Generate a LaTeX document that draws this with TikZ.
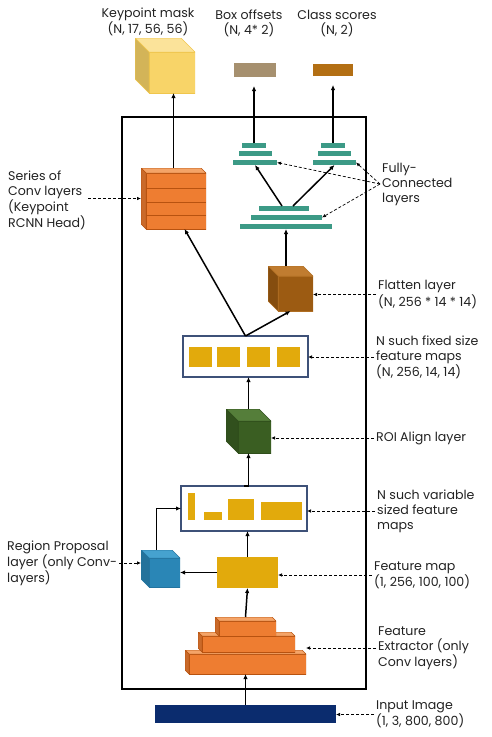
\documentclass[tikz,border=0pt]{standalone}
\usepackage{fontspec}
\setmainfont{Poppins}
\usetikzlibrary{arrows.meta}

\definecolor{txt}{HTML}{222222}
\definecolor{navy}{HTML}{0B2C6E}
\definecolor{orfront}{HTML}{EE7D31}
\definecolor{ortop}{HTML}{F4A468}
\definecolor{orside}{HTML}{D9671C}
\definecolor{orline}{HTML}{B8520F}
\definecolor{gold}{HTML}{E2AA0C}
\definecolor{frame}{HTML}{3E5178}
\definecolor{bluefront}{HTML}{2A86B6}
\definecolor{bluetop}{HTML}{46A2CF}
\definecolor{blueside}{HTML}{2374A0}
\definecolor{grnfront}{HTML}{3A5E22}
\definecolor{grntop}{HTML}{557E3A}
\definecolor{grnside}{HTML}{2F4E1B}
\definecolor{brnfront}{HTML}{9C5B12}
\definecolor{brntop}{HTML}{C07C30}
\definecolor{brnside}{HTML}{B06E22}
\definecolor{ylwfront}{HTML}{F8D468}
\definecolor{ylwtop}{HTML}{FBE39A}
\definecolor{ylwside}{HTML}{F0C64C}
\definecolor{teal}{HTML}{3C9A86}
\definecolor{tan}{HTML}{A6906F}
\definecolor{rust}{HTML}{B36F14}

\begin{document}
\begin{tikzpicture}[x=1pt,y=-1pt,
  font=\fontsize{12.6}{15}\selectfont, text=txt,
  blk/.style={inner sep=0pt,outer sep=0pt},
  cube/.style n args={4}{blk, path picture={
    \coordinate (sw) at (path picture bounding box.south west);
    \coordinate (nw) at (path picture bounding box.north west);
    \coordinate (ne) at (path picture bounding box.north east);
    \filldraw[fill=#2,draw=#4,line width=0.5pt] ([xshift=#1pt]sw) rectangle ([yshift=-#1pt]ne);
    \filldraw[fill=#3,draw=#4,line width=0.5pt] (nw) -- ([xshift=-#1pt]ne) -- ([yshift=-#1pt]ne)
      -- ([xshift=#1pt,yshift=-#1pt]nw) -- cycle;
    \filldraw[fill=#2!85!black,draw=#4,line width=0.5pt] (nw) -- ([xshift=#1pt,yshift=-#1pt]nw)
      -- ([xshift=#1pt]sw) -- ([yshift=#1pt]sw) -- cycle;}},
  fc/.style={blk,fill=teal,minimum height=5pt},
  mapbox/.style={blk,draw=frame,line width=1.5pt,fill=white},
  lbl/.style={anchor=west,align=left,inner sep=2pt},
  arr/.style={-{Latex[length=5pt,width=4.5pt]},line width=1.5pt},
  darr/.style={-{Latex[length=4pt,width=3.5pt]},densely dashed,line width=0.7pt}]
\useasboundingbox (0,0) rectangle (491,737);

% outer frame
\node[blk,draw,line width=2.2pt,minimum width=244pt,minimum height=572pt] (box) at (244,403) {};

% input and feature extractor
\node[blk,fill=navy,minimum width=181pt,minimum height=18pt] (inimg) at (245.5,714) {};
\node[cube={4}{orfront}{ortop}{orline},minimum width=121pt,minimum height=24pt] (fexA) at (245.5,662) {};
\node[cube={4}{orfront}{ortop}{orline},minimum width=97pt,minimum height=20pt] (fexB) at (246.5,642) {};
\node[cube={4}{orfront}{ortop}{orline},minimum width=61pt,minimum height=19pt] (fexC) at (245.5,626.5) {};

% feature map and region proposals
\node[blk,fill=gold,minimum width=61pt,minimum height=31pt] (fmap) at (247.5,572.5) {};
\node[cube={8}{bluefront}{bluetop}{blueside},minimum width=39pt,minimum height=37pt] (rpn) at (160.5,568.5) {};
\node[mapbox,minimum width=126pt,minimum height=45pt] (varbox) at (244,508.5) {};
\node[blk,fill=gold,minimum width=7pt,minimum height=27pt] (v1) at (191.5,506.5) {};
\node[blk,fill=gold,minimum width=18pt,minimum height=8pt] (v2) at (213,516) {};
\node[blk,fill=gold,minimum width=26pt,minimum height=21pt] (v3) at (241,509.5) {};
\node[blk,fill=gold,minimum width=41pt,minimum height=18pt] (v4) at (281.5,511) {};

% roi align and fixed maps
\node[cube={12}{grnfront}{grntop}{grnside},minimum width=45pt,minimum height=44pt] (roi) at (248.5,431) {};
\node[mapbox,minimum width=125pt,minimum height=41pt] (fixbox) at (245.5,356.5) {};
\foreach \x [count=\i] in {200,228.5,258.5,288.5}
  \node[blk,fill=gold,minimum width=23pt,minimum height=20pt] (sq\i) at (\x,357) {};

% flatten, fully connected
\node[cube={10}{brnfront}{brntop}{brnside},minimum width=45pt,minimum height=45pt] (flat) at (290.5,288.5) {};
\node[fc,minimum width=50pt] (fcA) at (284,208.5) {};
\node[fc,minimum width=71pt] (fcB) at (286.5,217.5) {};
\node[fc,minimum width=92pt] (fcC) at (286,226.5) {};
\node[fc,minimum width=24pt] (l1) at (254,145.5) {};
\node[fc,minimum width=33pt] (l2) at (255.5,153.5) {};
\node[fc,minimum width=44pt] (l3) at (255,162.5) {};
\node[fc,minimum width=24pt] (r1) at (333,145.5) {};
\node[fc,minimum width=33pt] (r2) at (334.5,153.5) {};
\node[fc,minimum width=43pt] (r3) at (334.5,162.5) {};

% keypoint head
\node[cube={5}{orfront}{ortop}{orline},minimum width=65pt,minimum height=61pt] (head) at (173.5,198.5) {};
\foreach \y in {188,202,215}
  \draw[orline,line width=0.6pt] (146,\y) -- (206,\y);

% outputs
\node[cube={14}{ylwfront}{ylwtop}{ylwside},minimum width=60pt,minimum height=55pt] (kmask) at (165,65.5) {};
\node[blk,fill=tan,minimum width=42pt,minimum height=14pt] (boxoff) at (255,70) {};
\node[blk,fill=rust,minimum width=40pt,minimum height=12pt] (cls) at (333,70) {};

% labels
\node[align=center] (tkm) at (148,22) {Keypoint mask\\(N, 17, 56, 56)};
\node[align=center] (tbo) at (249,23) {Box offsets\\(N, 4* 2)};
\node[align=center] (tcs) at (337,24) {Class scores\\(N, 2)};
\node[lbl] (lseries) at (6,200) {Series of\\Conv layers\\(Keypoint\\RCNN Head)};
\node[lbl] (lrpn) at (5,563) {Region Proposal\\layer (only Conv-\\layers)};
\node[lbl] (lfc) at (380,184) {Fully-\\Connected\\layers};
\node[lbl] (lflat) at (376,294.5) {Flatten layer\\(N, 256 * 14 * 14)};
\node[lbl] (lfix) at (374,357) {N such fixed size\\feature maps\\(N, 256, 14, 14)};
\node[lbl] (lroi) at (374,438) {ROI Align layer};
\node[lbl] (lvar) at (375,511) {N such variable\\sized feature\\maps};
\node[lbl] (lfmap) at (372,575) {Feature map\\(1, 256,  100, 100)};
\node[lbl] (lfex) at (376,648) {Feature\\Extractor (only\\Conv layers)};
\node[lbl] (lin) at (374,714.5) {Input Image\\(1, 3, 800, 800)};

% data flow
\draw[arr] (inimg.north -| fexA.south) -- (fexA.south);
\draw[arr] (fexC.north) -- (fmap.south);
\draw[arr] (fmap.north) -- (fmap.north |- varbox.south);
\draw[arr] (fmap.west) -- (fmap.west -| rpn.east);
\draw[arr] ([xshift=-4pt]rpn.north) |- (varbox.west);
\draw[arr] (varbox.north) -- (varbox.north -| roi.south) -- (roi.south);
\draw[arr] (roi.north) -- (roi.north |- fixbox.south);
\draw[arr] (fixbox.north) -- ([xshift=11pt]head.south);
\draw[arr] (fixbox.north) -- (flat.south);
\draw[arr] (fcC.south |- flat.north) -- (fcC.south);
\draw[arr] ([xshift=-2pt]fcA.north) -- (l3.south);
\draw[arr] ([xshift=9pt]fcA.north) -- (r3.south);
\draw[arr,shorten >=9pt] (l1.north) -- (l1.north |- boxoff.south);
\draw[arr,shorten >=9pt] (r1.north) -- (r1.north |- cls.south);
\draw[arr] (head.north) -- (head.north |- kmask.south);

% label pointers
\draw[darr] (lseries.east |- head.west) -- (head.west);
\draw[darr] (lrpn.east) -- (lrpn.east -| rpn.west);
\draw[darr] (lfc.west) -- (l3.east);
\draw[darr] (lfc.west) -- (r3.east);
\draw[darr] (lfc.west) -- (fcB.east);
\draw[darr] (lflat.west) -- (lflat.west -| flat.east);
\draw[darr] (lfix.west) -- (lfix.west -| fixbox.east);
\draw[darr] (lroi.west) -- (lroi.west -| roi.east);
\draw[darr] (lvar.west) -- (lvar.west -| varbox.east);
\draw[darr] (lfmap.west) -- (lfmap.west -| fmap.east);
\draw[darr] (lfex.west) -- (lfex.west -| fexA.east);
\draw[darr] (lin.west) -- (lin.west -| inimg.east);
\end{tikzpicture}
\end{document}
